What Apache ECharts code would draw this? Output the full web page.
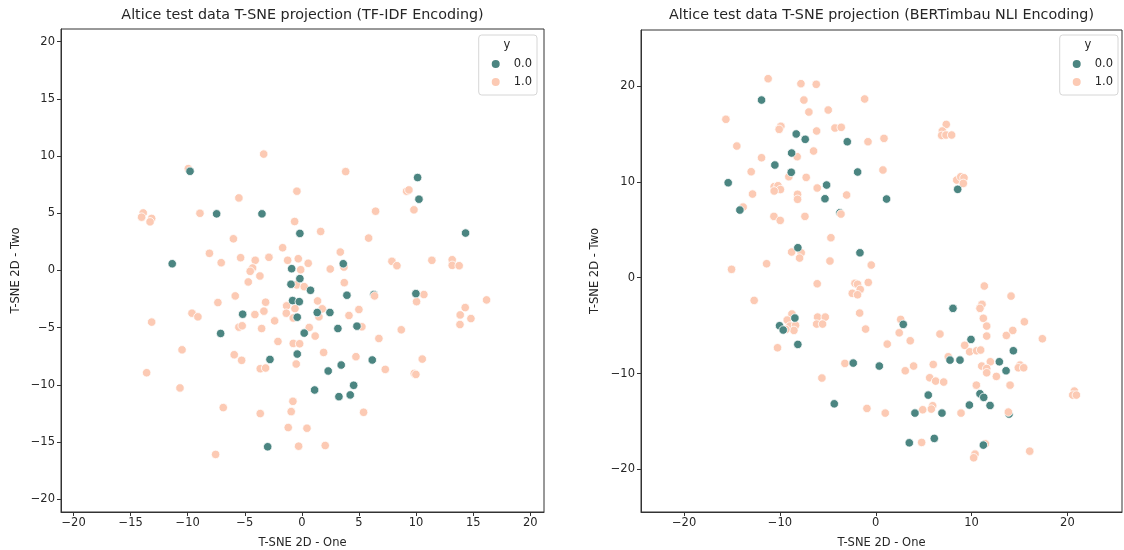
<!DOCTYPE html>
<html>
<head>
<meta charset="utf-8">
<script src="https://cdn.jsdelivr.net/npm/echarts@6/dist/echarts.min.js"></script>
<style>
  html, body { margin: 0; padding: 0; background: #fff; }
  #chart { width: 1124px; height: 550px; }
</style>
</head>
<body>
<div id="chart"></div>
<script>
// T-SNE 2D projections of the Altice test set, coloured by label y

const tfidfTicks = [-20, -15, -10, -5, 0, 5, 10, 15, 20];
const bertTicks = [-20, -10, 0, 10, 20];

// TF-IDF encoding, class 0.0
const tfidfClass0 = [
  [-9.8, 8.67], [-7.47, 4.95], [-3.5, 4.95], [-0.18, 3.24], [-11.36, 0.59],
  [-0.9, 0.16], [-0.18, -0.71], [-0.96, -1.2], [0.75, -1.73], [-0.82, -2.63],
  [-0.23, -2.72], [-5.19, -3.82], [-0.41, -4.08], [-7.12, -5.5], [0.2, -5.47],
  [10.13, 8.12], [10.25, 6.23], [14.33, 3.27], [3.62, 0.59], [3.94, -2.16],
  [9.98, -2.02], [1.34, -3.67], [2.45, -3.67], [3.15, -5.07], [4.82, -4.86],
  [-2.8, -7.77], [-0.41, -7.3], [6.16, -7.82], [3.44, -8.26], [2.3, -8.78],
  [4.53, -10.03], [1.11, -10.44], [4.23, -10.87], [3.24, -11.02], [-3.0, -15.4]
];
// class 0.0 points lying underneath class 1.0 points
const tfidfClass0Under = [[6.3, -2.1]];

// TF-IDF encoding, class 1.0
const tfidfClass1 = [
  [-3.35, 10.17], [-9.95, 8.9], [-0.44, 6.93], [-5.52, 6.34], [-13.9, 5.03],
  [-14.04, 4.66], [-13.16, 4.55], [-13.3, 4.25], [-8.93, 5.0], [-0.64, 4.28],
  [-6.0, 2.77], [-1.69, 1.99], [-8.1, 1.5], [-5.37, 1.12], [-2.89, 1.15],
  [-4.09, 0.89], [-7.07, 0.68], [-1.25, 0.89], [-0.32, 1.03], [0.55, 0.63],
  [-4.32, 0.22], [-4.53, -0.07], [-0.11, 0.07], [-3.68, -0.48], [-4.7, -1.0],
  [-0.46, -1.26], [0.2, -1.41], [-5.84, -2.22], [-7.36, -2.8], [-3.18, -2.77],
  [-1.34, -3.09], [-0.61, -3.33], [-3.33, -3.55], [-9.63, -3.73], [-9.11, -4.05],
  [-4.12, -3.85], [-1.37, -3.73], [-0.76, -4.15], [-2.39, -4.4], [-13.16, -4.51],
  [-5.52, -4.95], [-5.23, -4.83], [-3.53, -5.07], [0.64, -4.98],
  [3.83, 8.64], [9.17, 6.93], [9.37, 7.04], [6.45, 5.18], [9.81, 5.3],
  [1.64, 3.41], [5.84, 2.83], [3.36, 1.61], [3.68, 0.3], [2.48, 0.13],
  [7.88, 0.8], [8.32, 0.42], [11.38, 0.89], [13.16, 0.94], [13.16, 0.45],
  [13.77, 0.42], [3.71, -1.06], [6.36, -2.22], [10.68, -2.1], [10.04, -2.72],
  [16.17, -2.57], [14.3, -3.24], [13.86, -3.88], [14.8, -4.2], [13.84, -4.72],
  [8.7, -5.18], [1.37, -2.66], [1.78, -3.35], [1.49, -4.05], [4.12, -3.93],
  [4.99, -3.41], [5.25, -4.92], [1.16, -5.73], [6.74, -5.94], [-2.1, -6.2],
  [-0.76, -6.37], [-0.2, -6.4],
  [-10.5, -6.93], [-5.93, -7.36], [-5.28, -7.85], [1.9, -7.16], [4.73, -7.53],
  [10.54, -7.74], [-0.5, -8.17], [-3.65, -8.58], [-3.18, -8.52], [7.3, -8.64],
  [9.84, -8.99], [9.98, -9.08], [-13.6, -8.93], [-10.68, -10.26], [-0.79, -11.43],
  [-6.89, -11.98], [-0.94, -12.33], [-3.65, -12.5], [5.4, -12.39], [-1.2, -13.72],
  [0.44, -13.78], [-0.29, -15.35], [2.04, -15.29], [-7.56, -16.07]
];

// BERTimbau NLI encoding, class 0.0
const bertClass0 = [
  [-11.92, 18.54], [-8.3, 15.0], [-7.36, 14.44], [-2.97, 14.19], [-8.78, 13.01],
  [-10.53, 11.76], [-8.82, 11.0], [-1.89, 11.03], [-15.4, 9.91], [-5.13, 9.67],
  [-5.3, 8.24], [1.13, 8.21], [-14.18, 7.06], [-8.13, 3.13], [-1.65, 2.6],
  [8.55, 9.22],
  [-8.44, -4.21], [-10.04, -5.01], [-9.66, -5.46], [-8.13, -6.96], [-2.35, -8.91],
  [0.37, -9.22], [-4.33, -13.16],
  [8.06, -3.2], [2.87, -4.87], [9.94, -6.44], [14.36, -7.62], [7.75, -8.6],
  [8.79, -8.6], [12.9, -8.77], [13.6, -9.71], [5.48, -12.25], [10.88, -12.11],
  [11.27, -12.49], [9.77, -13.29], [11.93, -13.33], [4.09, -14.13], [6.91, -14.13],
  [3.5, -17.23], [6.11, -16.77], [11.23, -17.47]
];
const bertClass0Under = [[-3.74, 6.78], [13.91, -14.23]];

// BERTimbau NLI encoding, class 1.0
const bertClass1 = [
  [-11.23, 20.77], [-7.81, 20.25], [-6.21, 20.18], [-1.16, 18.65], [-7.5, 18.54],
  [-6.98, 17.29], [-4.96, 17.5], [-15.64, 16.53], [-9.9, 15.8], [-10.08, 15.48],
  [-4.26, 15.62], [-3.6, 15.69], [-6.17, 15.31], [-0.81, 14.19], [0.86, 14.54],
  [-14.5, 13.74], [-6.49, 13.22], [-11.92, 12.52], [-8.2, 12.63], [-13.0, 11.06],
  [0.75, 11.24], [-9.07, 10.54], [-7.26, 10.47], [-10.6, 9.5], [-10.2, 9.6],
  [-9.95, 9.2], [-10.6, 9.05], [-6.11, 9.36], [-12.86, 8.73], [-8.16, 8.7],
  [-8.16, 8.18], [-3.04, 8.63], [-13.84, 7.37], [-3.63, 6.64], [-10.63, 6.4],
  [-7.39, 6.4], [-9.97, 5.98], [-4.68, 4.17], [-8.78, 2.68], [-7.78, 2.6],
  [-7.95, 2.05], [-4.78, 1.74], [-11.39, 1.46], [-0.47, 1.32], [-15.05, 0.87],
  [7.36, 16.0], [6.95, 15.31], [6.88, 14.85], [7.33, 14.89], [7.92, 14.89],
  [8.45, 10.19], [8.87, 10.54], [9.21, 10.43], [9.14, 9.84],
  [-6.11, -0.63], [-2.17, -0.59], [-1.9, -0.69], [-1.62, -1.22], [-2.45, -1.63],
  [-1.9, -1.78], [-0.78, -0.49], [-12.69, -2.37], [-1.68, -3.69], [-8.75, -3.79],
  [-9.24, -4.42], [-8.96, -5.05], [-8.37, -4.97], [-8.54, -5.5], [-9.38, -5.4],
  [-10.25, -7.31], [-6.07, -4.11], [-5.27, -4.11], [-6.17, -4.84], [-5.55, -4.84],
  [-1.06, -5.36], [1.2, -6.93], [-3.22, -8.94], [-5.62, -10.47], [-0.92, -13.64],
  [0.99, -14.13],
  [11.33, -0.87], [14.12, -1.92], [11.09, -2.78], [10.88, -3.2], [11.23, -4.24],
  [11.58, -5.05], [15.51, -4.6], [2.6, -4.35], [2.45, -5.75], [6.7, -5.88],
  [11.58, -6.09], [13.63, -6.02], [14.3, -5.5], [17.39, -6.37], [3.6, -6.58],
  [9.28, -7.06], [9.8, -7.73], [10.53, -7.62], [10.95, -7.55], [7.57, -8.25],
  [6.0, -9.05], [3.95, -9.22], [3.08, -9.71], [11.96, -8.77], [11.06, -9.22],
  [11.58, -9.47], [11.58, -9.92], [15.06, -9.12], [14.88, -9.4], [15.44, -9.4],
  [12.59, -10.3], [5.63, -10.44], [6.25, -10.79], [7.09, -10.89], [10.5, -11.21],
  [14.02, -11.21], [20.73, -11.83], [20.56, -12.25], [20.94, -12.25], [5.94, -13.36],
  [5.8, -13.71], [4.9, -13.78], [8.9, -14.13], [13.84, -14.02], [4.79, -17.19],
  [11.44, -17.33], [16.07, -18.1], [10.36, -18.41], [10.22, -18.79]
];

const COLOR0 = '#4b8581';
const COLOR1 = '#fccab4';
const INK = '#262626';
const FONT = 'DejaVu Sans';

const minus = v => String(v).replace('-', '\u2212');

function valueAxis(gridIndex, min, max, ticks, name, nameGap, isY) {
  return {
    type: 'value', gridIndex, min, max,
    name, nameLocation: 'middle', nameGap,
    nameTextStyle: { color: INK, fontFamily: FONT, fontSize: 11.5 },
    axisLine: { show: true, onZero: false, lineStyle: { color: '#333', width: 1 } },
    axisTick: { show: true, inside: false, length: 4, customValues: ticks, lineStyle: { color: '#333' } },
    axisLabel: { color: INK, fontFamily: FONT, fontSize: 11.5, margin: isY ? 6 : 5,
                 customValues: ticks, formatter: minus },
    splitLine: { show: false }
  };
}

function dots(name, data, xi, color, z) {
  return {
    type: 'scatter', name, data, xAxisIndex: xi, yAxisIndex: xi, z,
    symbol: 'circle', symbolSize: 8.5,
    itemStyle: { color, borderColor: '#ffffff', borderWidth: 0.8, opacity: 1 },
    emphasis: { disabled: true }, animation: false
  };
}

function legendAt(right) {
  return {
    data: ['0.0', '1.0'], orient: 'vertical', right, top: 35,
    icon: 'circle', itemWidth: 10, itemHeight: 10, itemGap: 6,
    padding: [23, 5, 7, 11],
    backgroundColor: '#fff', borderColor: '#d6d6d6', borderWidth: 1, borderRadius: 3,
    textStyle: { color: INK, fontFamily: FONT, fontSize: 11.5, padding: [0, 0, 0, 8] },
    selectedMode: false
  };
}

function label(x, y, text, size) {
  return {
    type: 'text', x, y, z: 100,
    style: { text, fill: INK, font: size + 'px "' + FONT + '"', textAlign: 'center', textVerticalAlign: 'middle' }
  };
}

const chart = echarts.init(document.getElementById('chart'), null, { renderer: 'canvas' });
chart.setOption({
  animation: false,
  backgroundColor: '#fff',
  grid: [
    { left: 61, top: 29, width: 483, height: 483, outerBoundsMode: 'none', containLabel: false,
      show: true, borderColor: '#333', borderWidth: 1, backgroundColor: 'transparent' },
    { left: 641, top: 30, width: 481, height: 482, outerBoundsMode: 'none', containLabel: false,
      show: true, borderColor: '#333', borderWidth: 1, backgroundColor: 'transparent' }
  ],
  xAxis: [
    valueAxis(0, -21.1, 21.2, tfidfTicks, 'T-SNE 2D - One', 25, false),
    valueAxis(1, -24.5, 25.7, bertTicks, 'T-SNE 2D - One', 25, false)
  ],
  yAxis: [
    valueAxis(0, -21.1, 21.1, tfidfTicks, 'T-SNE 2D - Two', 39, true),
    valueAxis(1, -24.45, 25.85, bertTicks, 'T-SNE 2D - Two', 40, true)
  ],
  legend: [legendAt(587), legendAt(6)],
  graphic: [
    label(302.5, 15, 'Altice test data T-SNE projection (TF-IDF Encoding)', 14.3),
    label(881.5, 15, 'Altice test data T-SNE projection (BERTimbau NLI Encoding)', 14.3),
    label(507, 45, 'y', 11.5),
    label(1088, 45, 'y', 11.5)
  ],
  series: [
    dots('0.0', tfidfClass0Under, 0, COLOR0, 1),
    dots('1.0', tfidfClass1, 0, COLOR1, 2),
    dots('0.0', tfidfClass0, 0, COLOR0, 3),
    dots('0.0', bertClass0Under, 1, COLOR0, 1),
    dots('1.0', bertClass1, 1, COLOR1, 2),
    dots('0.0', bertClass0, 1, COLOR0, 3)
  ]
});
</script>
</body>
</html>
